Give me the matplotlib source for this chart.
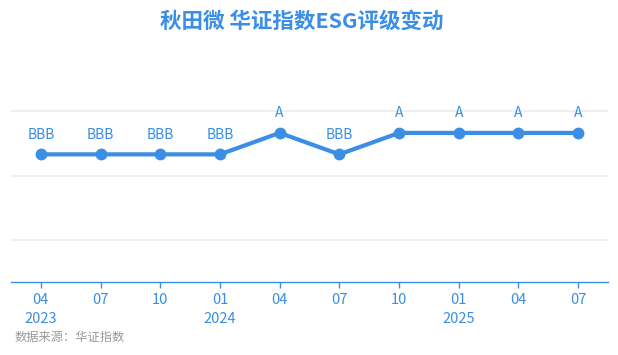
import matplotlib
matplotlib.use("Agg")
import matplotlib.pyplot as plt

plt.rcParams['font.family'] = ['Noto Sans CJK SC', 'DejaVu Sans']

months = ['04', '07', '10', '01', '04', '07', '10', '01', '04', '07']
years = ['2023', '', '', '2024', '', '', '', '2025', '', '']
ratings = ['BBB', 'BBB', 'BBB', 'BBB', 'A', 'BBB', 'A', 'A', 'A', 'A']
rating_score = {'BBB': 4, 'A': 5}

blue = '#3a8ee6'
values = [rating_score[r] for r in ratings]
x = list(range(len(values)))

fig = plt.figure(figsize=(6.18, 3.55), dpi=100)
ax = fig.add_axes([11 / 618, (355 - 282) / 355, 597 / 618, 192 / 355])

for g in [0, 3, 6]:
    ax.axhline(g, color='#eeeeee', lw=1.3, zorder=0)

ax.plot(x, values, color=blue, lw=3, marker='o', markersize=7.5, zorder=3)
for xi, v, r in zip(x, values, ratings):
    ax.annotate(r, (xi, v), xytext=(0, 14), textcoords='offset points',
                ha='center', va='center', fontsize=10, color=blue)

ax.set_xlim(-0.5, len(x) - 0.5)
ax.set_ylim(-1.95, 7)
ax.set_yticks([])
ax.set_xticks(x)
ax.set_xticklabels([m + '\n' + y for m, y in zip(months, years)],
                   fontsize=10.5, color=blue, linespacing=1.4)
ax.tick_params(axis='x', length=4, width=1, color=blue, pad=4)
for s in ['top', 'right', 'left']:
    ax.spines[s].set_visible(False)
ax.spines['bottom'].set_color(blue)
ax.spines['bottom'].set_linewidth(1)

fig.text(302 / 618, 1 - 21 / 355, '秋田微 华证指数ESG评级变动', ha='center', va='center',
         fontsize=15.5, fontweight='bold', color=blue)
fig.text(15 / 618, 1 - 337 / 355, '数据来源：华证指数', ha='left', va='center',
         fontsize=8.8, color='#999999')

fig.savefig('out.png', dpi=100)
